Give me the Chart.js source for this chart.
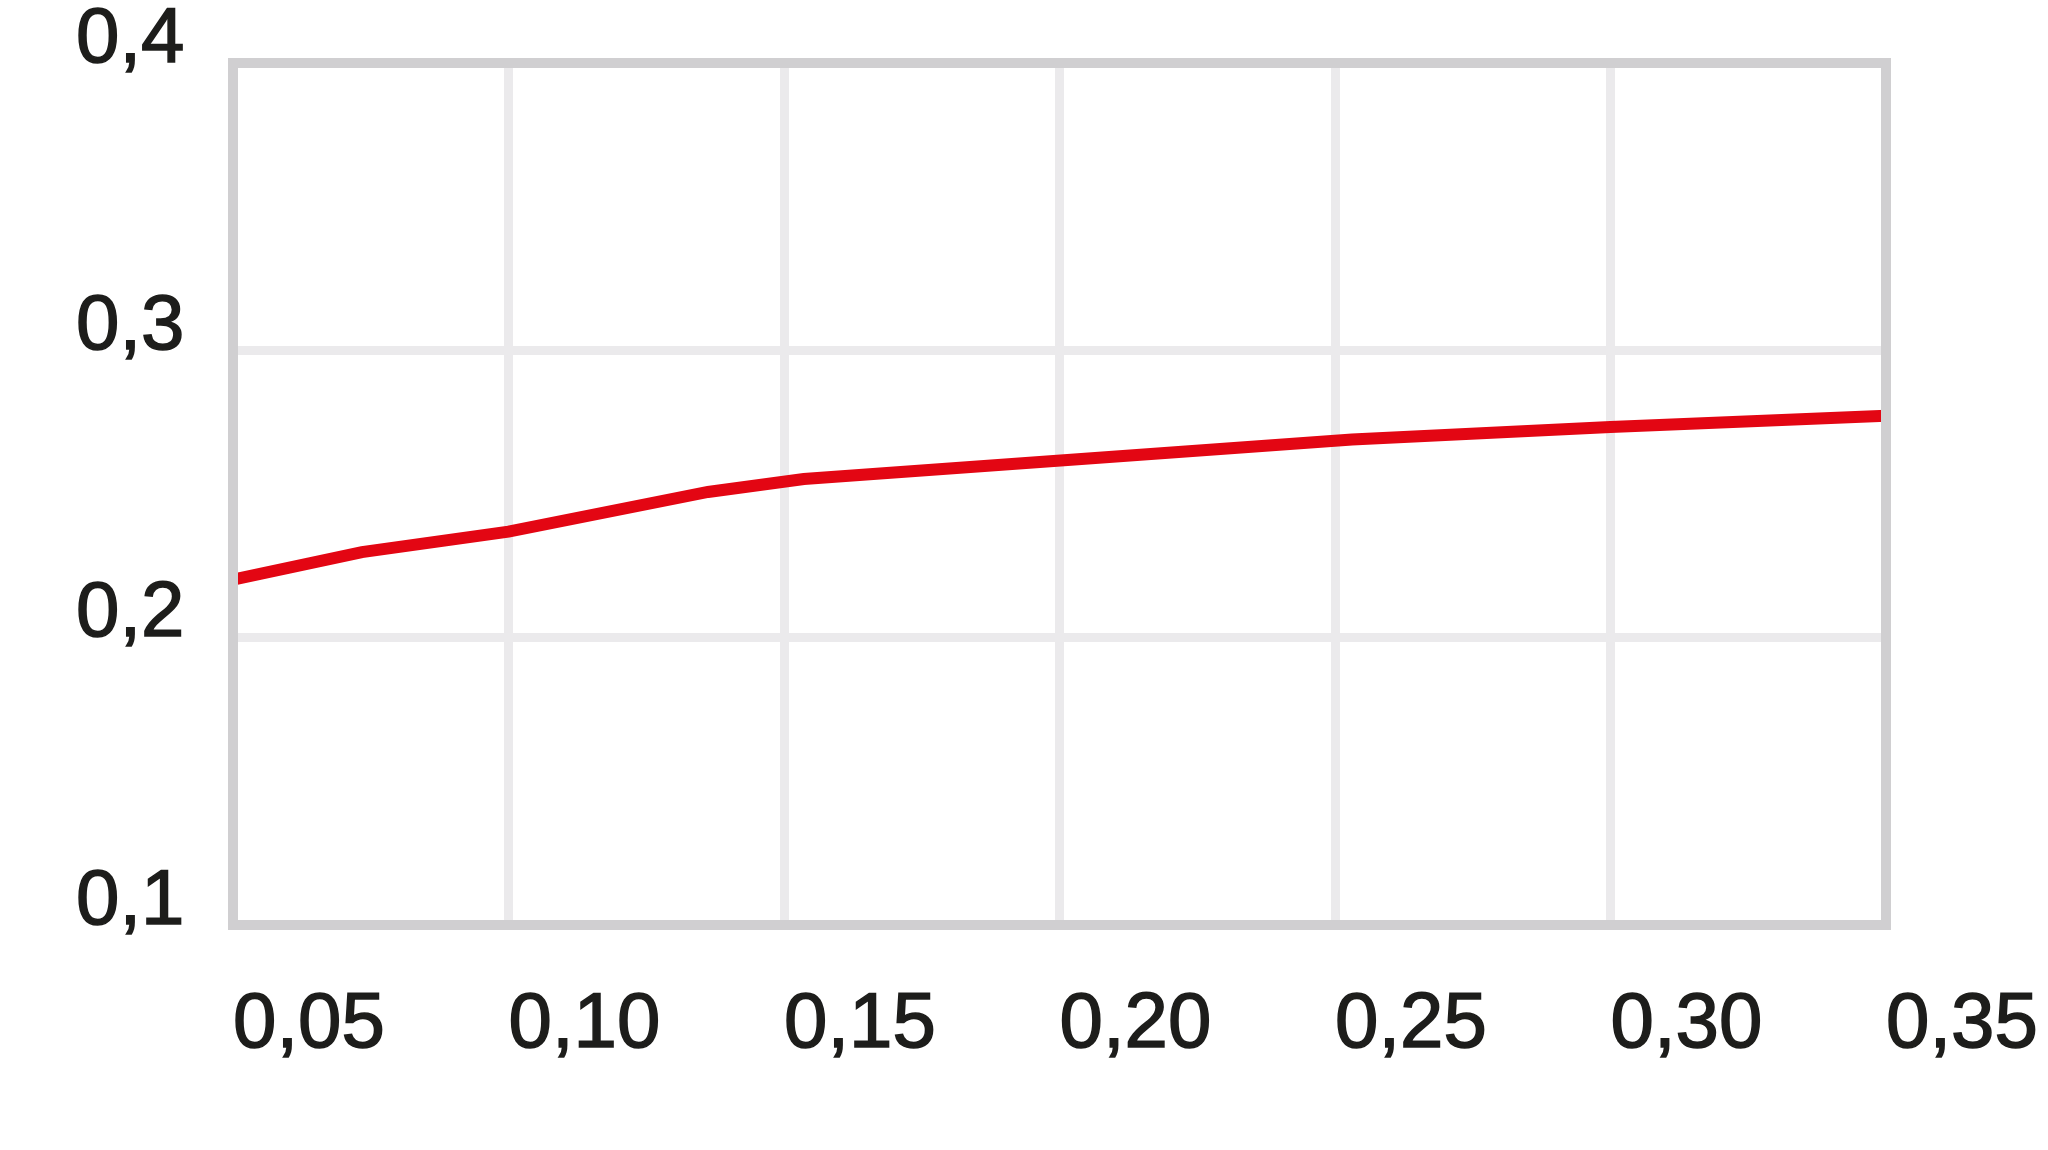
<!DOCTYPE html>
<html>
<head>
<meta charset="utf-8">
<title>Chart</title>
<script src="https://cdn.jsdelivr.net/npm/chart.js@4.4.1/dist/chart.umd.min.js"></script>
<style>
	html, body { margin: 0; padding: 0; background: #ffffff; }
	#myChart { display: block; }
</style>
</head>
<body>
<canvas id="myChart" width="2048" height="1150"></canvas>
<script>
"use strict";

// values
const xValues = [0.05, 0.0734, 0.10, 0.1362, 0.1536, 0.2531, 0.30, 0.35];
const yValues = [0.2202, 0.2298, 0.2369, 0.2507, 0.2552, 0.2690, 0.2733, 0.2772];

const xTicks = [0.05, 0.10, 0.15, 0.20, 0.25, 0.30, 0.35];
const xTickLabels = ['0,05', '0,10', '0,15', '0,20', '0,25', '0,30', '0,35'];
const yTicks = [0.1, 0.2, 0.3, 0.4];
const yTickLabels = ['0,1', '0,2', '0,3', '0,4'];

const BORDER_COLOR = '#d0cfd1';
const GRID_COLOR = '#ebeaec';
const TEXT_COLOR = '#1d1d1b';
const FONT = 'Liberation Sans';

var drawGraph = () => {
	const points = xValues.map((x, i) => ({x: x, y: yValues[i]}));

	const data = {
		datasets: [
			{
				label: 'Series',
				data: points,
				borderColor: '#e30613',
				borderWidth: 12,
				pointRadius: 0,
				tension: 0,
				fill: false
			}
		]
	};

	const frame = {display: true, color: BORDER_COLOR, width: 10, z: 1};

	const config = {
		type: 'line',
		data: data,
		options: {
			responsive: false,
			animation: false,
			devicePixelRatio: 1,
			layout: {
				padding: {left: 76, top: 63, right: 162, bottom: 75}
			},
			plugins: {
				legend: {display: false},
				title: {display: false},
				tooltip: {enabled: false}
			},
			scales: {
				x: {
					type: 'linear',
					position: 'bottom',
					min: 0.05,
					max: 0.35,
					afterBuildTicks: (scale) => { scale.ticks = xTicks.map(v => ({value: v})); },
					afterFit: (scale) => { scale.height = 150; },
					grid: {
						color: GRID_COLOR,
						lineWidth: 9,
						drawTicks: true,
						tickLength: 54,
						tickColor: 'rgba(0,0,0,0)'
					},
					border: frame,
					ticks: {
						align: 'start',
						padding: 0,
						maxRotation: 0,
						autoSkip: false,
						color: TEXT_COLOR,
						textStrokeColor: TEXT_COLOR,
						textStrokeWidth: 1.5,
						font: {family: FONT, size: 78},
						callback: (value, index) => xTickLabels[index]
					}
				},
				y: {
					type: 'linear',
					position: 'left',
					min: 0.1,
					max: 0.4,
					afterBuildTicks: (scale) => { scale.ticks = yTicks.map(v => ({value: v})); },
					afterFit: (scale) => { scale.width = 157; },
					grid: {
						color: GRID_COLOR,
						lineWidth: 9,
						drawTicks: false
					},
					border: frame,
					ticks: {
						crossAlign: 'far',
						padding: 0,
						autoSkip: false,
						color: TEXT_COLOR,
						textStrokeColor: TEXT_COLOR,
						textStrokeWidth: 1.5,
						// second empty line lifts the label so it sits on the gridline
						font: {family: FONT, size: 78, lineHeight: 0.587},
						callback: (value, index) => [yTickLabels[index], '']
					}
				},
				// only here to draw the top and right side of the frame
				x2: {
					type: 'linear',
					position: 'top',
					min: 0.05,
					max: 0.35,
					afterFit: (scale) => { scale.height = 0; },
					grid: {display: false, drawTicks: false},
					border: frame,
					ticks: {display: false}
				},
				y2: {
					type: 'linear',
					position: 'right',
					min: 0.1,
					max: 0.4,
					afterFit: (scale) => { scale.width = 0; },
					grid: {display: false, drawTicks: false},
					border: frame,
					ticks: {display: false}
				}
			}
		}
	};

	const myChart = new Chart(document.getElementById('myChart'), config);
	console.log('chart area', myChart.chartArea);
};

drawGraph();
</script>
</body>
</html>
